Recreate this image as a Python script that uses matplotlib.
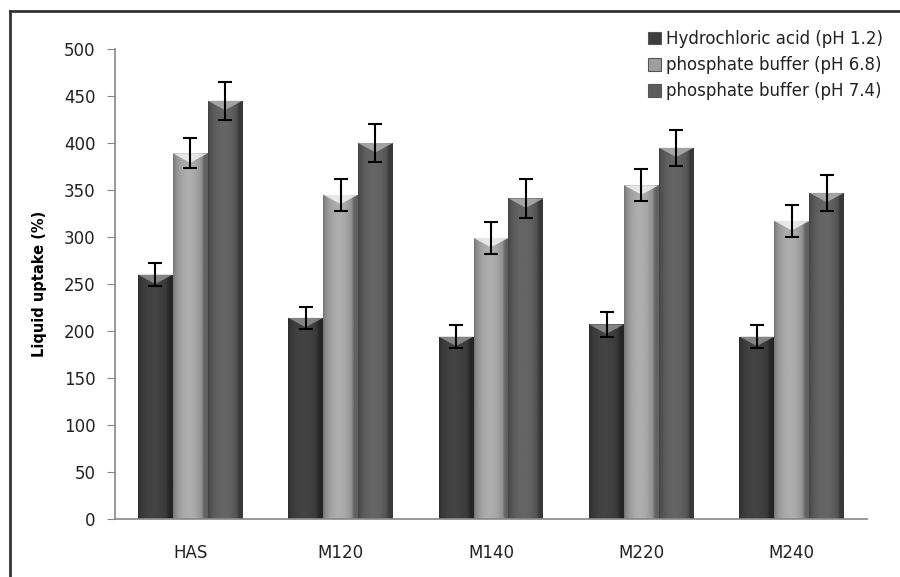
import numpy as np
import matplotlib
matplotlib.use("Agg")
import matplotlib.pyplot as plt
from matplotlib.lines import Line2D
from matplotlib.patches import Rectangle

plt.rcParams["font.family"] = ["DejaVu Sans"]

categories = ["HAS", "M120", "M140", "M220", "M240"]
series_names = ["Hydrochloric acid (pH 1.2)", "phosphate buffer (pH 6.8)", "phosphate buffer (pH 7.4)"]
hcl = [260, 214, 194, 207, 194]
pb68 = [389, 345, 299, 355, 317]
pb74 = [445, 400, 341, 395, 347]
hcl_err = [12, 12, 12, 13, 12]
pb68_err = [16, 17, 17, 17, 17]
pb74_err = [20, 20, 21, 19, 19]
yticks = [0, 50, 100, 150, 200, 250, 300, 350, 400, 450, 500]

values = [hcl, pb68, pb74]
errors = [hcl_err, pb68_err, pb74_err]
base_grey = [0.24, 0.62, 0.36]

W, H = 900, 577
fig = plt.figure(figsize=(W / 100, H / 100), dpi=100)
ax = fig.add_axes([115 / W, (H - 519) / H, (867 - 115) / W, (519 - 49) / H])

x = np.arange(len(categories))
bw = 0.232
offsets = [-bw, 0, bw]


def grad_img(g):
    t = np.linspace(0, 1, 64)
    prof = 0.72 + 0.38 * np.sin(np.pi * np.clip(t * 1.1, 0, 1)) ** 0.6
    prof[t > 0.85] *= 0.85
    col = np.clip(g * prof, 0, 1)
    return np.tile(col, (2, 1))


for i, (vals, errs) in enumerate(zip(values, errors)):
    bars = ax.bar(x + offsets[i], vals, width=bw, color=str(base_grey[i]),
                  edgecolor="none", zorder=2)
    img = grad_img(base_grey[i])
    for b in bars:
        x0, y0 = b.get_x(), b.get_y()
        w, h = b.get_width(), b.get_height()
        im = ax.imshow(img, cmap="gray", vmin=0, vmax=1, aspect="auto",
                       extent=[x0, x0 + w, y0, y0 + h], zorder=2.5,
                       interpolation="bilinear")
        im.set_clip_path(b)
        cap_h = 10
        tri = plt.Polygon([[x0, y0 + h], [x0 + w, y0 + h],
                           [x0 + w * 0.5, y0 + h - cap_h]],
                          closed=True, facecolor=str(min(1, base_grey[i] + 0.35)),
                          edgecolor="none", alpha=0.8, zorder=2.6)
        ax.add_patch(tri)
    ax.errorbar(x + offsets[i], vals, yerr=errs, fmt="none", ecolor="black",
                elinewidth=1.5, capsize=5, capthick=1.5, zorder=3)

ax.set_xlim(-0.5, len(categories) - 0.5)
ax.set_ylim(0, 500)
ax.set_yticks(yticks)
ax.set_xticks(x)
ax.set_xticklabels(categories, fontsize=12, color="#222222")
ax.tick_params(axis="x", length=0, pad=18)
ax.tick_params(axis="y", length=6, color="#888888", labelsize=12, labelcolor="#222222", pad=8)
for s in ["top", "right"]:
    ax.spines[s].set_visible(False)
ax.spines["left"].set_color("#888888")
ax.spines["bottom"].set_color("#888888")
ax.spines["left"].set_linewidth(1.2)
ax.spines["bottom"].set_linewidth(1.2)
ax.set_ylabel("Liquid uptake (%)", fontsize=10.5, fontweight="bold", labelpad=12)

handles = [Rectangle((0, 0), 1, 1, facecolor=str(g), edgecolor="#555555", linewidth=0.8)
           for g in base_grey]
leg = ax.legend(handles, series_names, loc="upper right", bbox_to_anchor=(1.03, 1.055),
                frameon=False, fontsize=12, handlelength=0.8, handleheight=0.8,
                handletextpad=0.3, labelspacing=0.5, borderaxespad=0)
for t in leg.get_texts():
    t.set_color("#222222")

fx, fy = 10 / W, 1 - 11 / H
fig.add_artist(Line2D([fx, fx], [0, fy], transform=fig.transFigure, color="#333333", lw=2))
fig.add_artist(Line2D([fx, 1], [fy, fy], transform=fig.transFigure, color="#333333", lw=2))

fig.savefig("out.png", dpi=100)
